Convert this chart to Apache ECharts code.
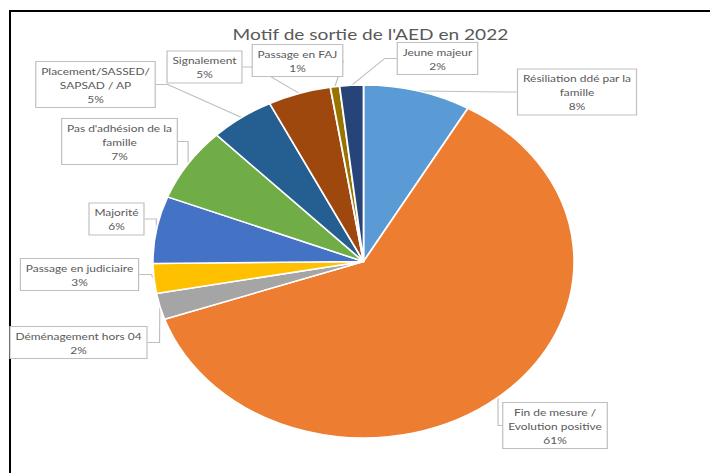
<!DOCTYPE html>
<html><head><meta charset="utf-8">
<script src="https://cdn.jsdelivr.net/npm/echarts@6/dist/echarts.min.js"></script>
<style>
html,body{margin:0;padding:0;width:710px;height:473px;overflow:hidden;background:#fff;}
#frame{position:absolute;left:9px;top:10px;width:720px;height:480px;border-left:2px solid #000;border-top:2px solid #000;box-sizing:border-box;}
#chart{position:absolute;left:0;top:0;width:595px;height:473px;transform:scaleX(1.1933);transform-origin:0 0;}
</style></head><body>
<div id="frame"></div>
<div id="chart"></div>
<script>
const title = "Motif de sortie de l'AED en 2022";
const categories = [
  "Résiliation ddé par la\nfamille",
  "Fin de mesure /\nEvolution positive",
  "Déménagement hors 04",
  "Passage en judiciaire",
  "Majorité",
  "Pas d'adhésion de la\nfamille",
  "Placement/SASSED/\nSAPSAD / AP",
  "Signalement",
  "Passage en FAJ",
  "Jeune majeur"
];
const values = [8.2, 61.0, 2.4, 2.7, 6.1, 6.7, 4.9, 4.8, 0.7, 1.8];
const colors = ["#5B9BD5","#ED7D31","#A5A5A5","#FFC000","#4472C4","#70AD47","#255E91","#9E480E","#997300","#264478"];

const SX = 1.1933;
const labelCenters = [[577,92],[555,425.5],[78.5,342.5],[79.5,274.5],[116.5,219],[119.5,141.5],[95.5,84.5],[204.5,67],[297.5,60.5],[437.5,58.5]];

const chart = echarts.init(document.getElementById('chart'), null, {renderer:'svg'});
chart.setOption({
  animation:false,
  title:{
    text:title, left:364.5/SX, top:21, textAlign:'center',
    textStyle:{color:'#595959', fontSize:16, fontWeight:'normal', fontFamily:'Lato'}
  },
  series:[{
    type:'pie',
    center:[363.5/SX, 261.5],
    radius:176.5,
    startAngle:90,
    clockwise:true,
    avoidLabelOverlap:false,
    emphasis:{disabled:true},
    itemStyle:{borderColor:'#fff', borderWidth:1.5},
    label:{
      show:true,
      formatter:p => p.name + '\n' + Math.round(p.percent) + '%',
      color:'#595959', fontSize:10, lineHeight:14, fontFamily:'Lato',
      backgroundColor:'#fff', borderColor:'#BFBFBF', borderWidth:1,
      padding:[2,4,1,4], align:'center'
    },
    labelLine:{show:true, length:10, length2:10, lineStyle:{color:'#BFBFBF', width:1}},
    labelLayout:function(p){
      const c = labelCenters[p.dataIndex];
      return {x:c[0]/SX, y:c[1], align:'center', verticalAlign:'middle'};
    },
    data:categories.map((n,i)=>({name:n, value:values[i], itemStyle:{color:colors[i]}}))
  }]
});
</script>
</body></html>
